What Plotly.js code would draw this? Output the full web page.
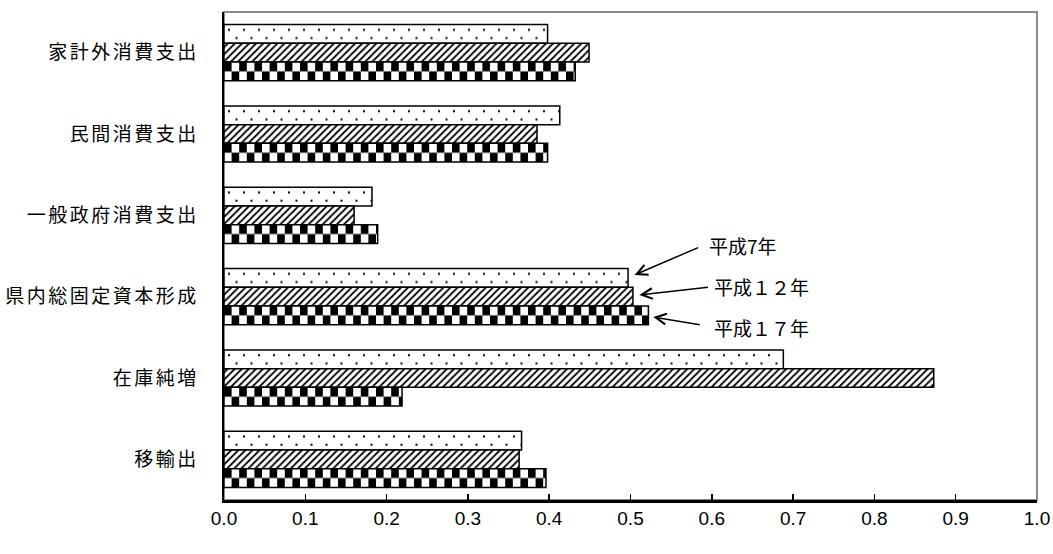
<!DOCTYPE html>
<html><head><meta charset="utf-8">
<script src="https://cdn.plot.ly/plotly-3.0.1.min.js"></script>
<style>
html,body{margin:0;padding:0;background:#fff;}
#chart{width:1053px;height:554px;}
.ytick text{letter-spacing:2.5px;}
</style></head><body>
<svg width="0" height="0" style="position:absolute"><defs id="custdefs"></defs></svg>
<div id="chart"></div>
<script>
// ---- data ----
const categories = ['家計外消費支出','民間消費支出','一般政府消費支出','県内総固定資本形成','在庫純増','移輸出'];
const seriesNames = ['平成7年','平成１２年','平成１７年'];
const valuesH7  = [0.398, 0.413, 0.182, 0.497, 0.688, 0.366];
const valuesH12 = [0.449, 0.385, 0.160, 0.503, 0.873, 0.363];
const valuesH17 = [0.432, 0.398, 0.189, 0.522, 0.219, 0.396];
const xTickVals   = [0, 0.1, 0.2, 0.3, 0.4, 0.5, 0.6, 0.7, 0.8, 0.9, 1.0];
const xTickLabels = ['0.0','0.1','0.2','0.3','0.4','0.5','0.6','0.7','0.8','0.9','1.0'];
const annotatedCategory = 3; // 県内総固定資本形成

const lineStyle = {color:'#000', width:1.5};
const traces = [
  {type:'bar', orientation:'h', name:seriesNames[0], y:categories, x:valuesH7,
   marker:{color:'#fff', line:lineStyle}},
  {type:'bar', orientation:'h', name:seriesNames[1], y:categories, x:valuesH12,
   marker:{color:'#fff', line:lineStyle,
     pattern:{shape:'/', fgcolor:'#000', bgcolor:'#fff', size:5, solidity:0.35, fillmode:'replace'}}},
  {type:'bar', orientation:'h', name:seriesNames[2], y:categories, x:valuesH17,
   marker:{color:'#fff', line:lineStyle}}
];

const seriesVals = [valuesH7, valuesH12, valuesH17];
const headY = [-0.267, -0.02, 0.25];
const tails = [[65,-28],[70,-8],[48,8]];
const textPos = [[0.594,0.5225],[0.600,0.4365],[0.600,0.3525]];
const annotations = [];
for (let i=0;i<3;i++){
  annotations.push({xref:'x', yref:'y', x: seriesVals[i][annotatedCategory] + (i===2?0.006:0.008),
    y: annotatedCategory + headY[i], text:' ', font:{size:1},
    showarrow:true, axref:'pixel', ayref:'pixel', ax:tails[i][0], ay:tails[i][1],
    arrowhead:5, arrowsize:1.4, arrowwidth:1.5, arrowcolor:'#000', standoff:0, startstandoff:0});
  annotations.push({xref:'paper', yref:'paper', x:textPos[i][0], y:textPos[i][1],
    xanchor:'left', yanchor:'middle', text:seriesNames[i], showarrow:false,
    font:{family:'"Noto Sans CJK JP", sans-serif', size:19, color:'#000'}});
}

const layout = {
  width:1053, height:554,
  margin:{l:224, r:16, t:12, b:54, pad:0},
  paper_bgcolor:'#fff', plot_bgcolor:'#fff',
  barmode:'group', bargap:0.31, bargroupgap:0,
  showlegend:false,
  xaxis:{range:[0,1], tickvals:xTickVals, ticktext:xTickLabels,
    ticks:'inside', ticklen:6, tickwidth:1.5, tickcolor:'#000',
    showline:true, linecolor:'#000', linewidth:2.5, showgrid:false, zeroline:false,
    ticklabelstandoff:0,
    tickfont:{family:'"Liberation Sans Narrow", "Liberation Sans", Arial, sans-serif', size:19, color:'#000'}},
  yaxis:{type:'category', autorange:'reversed', ticks:'', showline:true,
    linecolor:'#000', linewidth:2.5, showgrid:false, zeroline:false,
    ticklabelstandoff:19,
    tickfont:{family:'"Noto Sans CJK JP", sans-serif', size:19, color:'#000'}},
  shapes:[{type:'rect', xref:'paper', yref:'paper', x0:0, x1:1, y0:0, y1:1,
    line:{color:'#8c8c8c', width:2}, layer:'below'}],
  annotations:annotations
};

const SVGNS = 'http://www.w3.org/2000/svg';
function mk(tag, attrs){ const e=document.createElementNS(SVGNS,tag); for(const k in attrs) e.setAttribute(k,attrs[k]); return e; }

function applyPatterns(gd){
  const defs = document.getElementById('custdefs');
  while(defs.firstChild) defs.removeChild(defs.firstChild);
  const tr = gd.querySelectorAll('.barlayer .trace');
  let n = 0;
  // dotted
  tr[0].querySelectorAll('.point path').forEach(p=>{
    const b = p.getBBox(); const id='dots'+(n++);
    const pat = mk('pattern',{id:id, patternUnits:'userSpaceOnUse', x:b.x, y:b.y, width:15, height:b.height});
    pat.appendChild(mk('rect',{x:0,y:0,width:15,height:b.height,fill:'#fff'}));
    pat.appendChild(mk('rect',{x:4,y:0.28*b.height-1,width:2,height:2,fill:'#000'}));
    pat.appendChild(mk('rect',{x:11.5,y:0.72*b.height-1,width:2,height:2,fill:'#000'}));
    defs.appendChild(pat); p.style.fill='url(#'+id+')';
  });
  // checker
  const sq = 7.6;
  tr[2].querySelectorAll('.point path').forEach(p=>{
    const b = p.getBBox(); const id='chk'+(n++); const h2=b.height/2;
    const pat = mk('pattern',{id:id, patternUnits:'userSpaceOnUse', x:b.x, y:b.y, width:2*sq, height:b.height});
    pat.appendChild(mk('rect',{x:0,y:0,width:2*sq,height:b.height,fill:'#fff'}));
    pat.appendChild(mk('rect',{x:0,y:0,width:sq,height:h2,fill:'#000'}));
    pat.appendChild(mk('rect',{x:sq,y:h2,width:sq,height:h2,fill:'#000'}));
    defs.appendChild(pat); p.style.fill='url(#'+id+')';
  });
}

Plotly.newPlot('chart', traces, layout, {staticPlot:true, displayModeBar:false}).then(applyPatterns);
</script>
</body></html>
